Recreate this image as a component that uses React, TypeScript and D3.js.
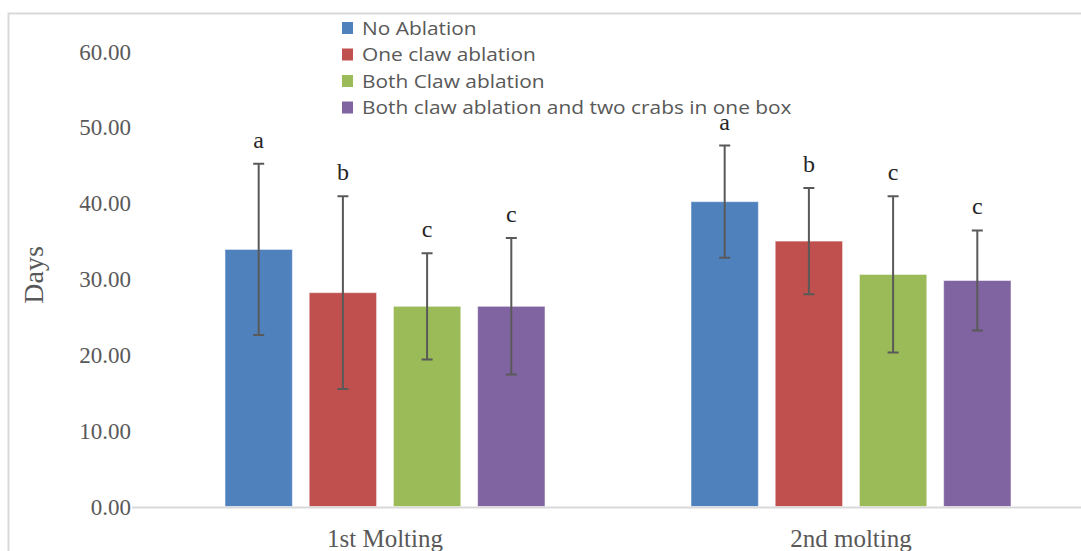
import { useEffect, useRef } from "react";
import * as d3 from "d3";

const categories = ["1st Molting", "2nd molting"];
const seriesNames = [
  "No Ablation",
  "One claw ablation",
  "Both Claw ablation",
  "Both claw ablation and two crabs in one box",
];
const colors = ["#4F81BD", "#C0504D", "#9BBB59", "#8064A2"];

// mean days per series, one value per category
const noAblation = [33.9, 40.2];
const oneClaw = [28.2, 35.0];
const bothClaw = [26.4, 30.6];
const bothClawTwoCrabs = [26.4, 29.8];

// standard deviations
const sdNoAblation = [11.3, 7.4];
const sdOneClaw = [12.7, 7.0];
const sdBothClaw = [7.0, 10.3];
const sdBothClawTwoCrabs = [9.0, 6.6];

// significance letters
const lettersNoAblation = ["a", "a"];
const lettersOneClaw = ["b", "b"];
const lettersBothClaw = ["c", "c"];
const lettersBothClawTwoCrabs = ["c", "c"];

const yTicks = [0, 10, 20, 30, 40, 50, 60];

const W = 1081,
  H = 551;

export default function App() {
  const ref = useRef<SVGSVGElement>(null);

  useEffect(() => {
    const svg = d3.select(ref.current);
    svg.selectAll("*").remove();

    const means = [noAblation, oneClaw, bothClaw, bothClawTwoCrabs];
    const sds = [sdNoAblation, sdOneClaw, sdBothClaw, sdBothClawTwoCrabs];
    const letters = [
      lettersNoAblation,
      lettersOneClaw,
      lettersBothClaw,
      lettersBothClawTwoCrabs,
    ];

    // chart frame (only top and left edges visible)
    svg
      .append("path")
      .attr("d", `M8.5,${H} L8.5,13.5 L${W},13.5`)
      .attr("fill", "none")
      .attr("stroke", "#d9d9d9")
      .attr("stroke-width", 2);

    const y = d3.scaleLinear().domain([0, 60]).range([506.5, 51.5]);
    const x0 = d3.scaleBand().domain(categories).range([152, 1084]);
    const x1 = d3
      .scaleBand()
      .domain(seriesNames)
      .range([0, 320])
      .paddingInner(0.2);
    const off = (x0.bandwidth() - 320) / 2;

    // y tick labels
    svg
      .append("g")
      .selectAll("text")
      .data(yTicks)
      .enter()
      .append("text")
      .attr("x", 131)
      .attr("y", (d) => y(d) + 8)
      .attr("text-anchor", "end")
      .attr("fill", "#595959")
      .style("font", "23px 'Liberation Serif', serif")
      .text((d) => d.toFixed(2));

    // y title
    svg
      .append("text")
      .attr("transform", `translate(43,275) rotate(-90)`)
      .attr("text-anchor", "middle")
      .attr("fill", "#595959")
      .style("font", "28px 'Liberation Serif', serif")
      .text("Days");

    // bars
    seriesNames.forEach((s, i) => {
      const g = svg.append("g");
      const rows = categories.map((c, j) => ({
        c,
        v: means[i][j],
        sd: sds[i][j],
        l: letters[i][j],
      }));
      const cx = (d) => x0(d.c)! + off + x1(s)! + x1.bandwidth() / 2;

      g.selectAll("rect")
        .data(rows)
        .enter()
        .append("rect")
        .attr("x", (d) => x0(d.c)! + off + x1(s)!)
        .attr("y", (d) => y(d.v))
        .attr("width", x1.bandwidth())
        .attr("height", (d) => y(0) - y(d.v))
        .attr("fill", colors[i])
        .attr("stroke", "rgba(255,255,255,0.5)")
        .attr("stroke-width", 1);

      // error bars
      g.selectAll("path.err")
        .data(rows)
        .enter()
        .append("path")
        .attr("class", "err")
        .attr("d", (d) => {
          const xc = cx(d);
          const t = y(d.v + d.sd),
            b = y(d.v - d.sd);
          return `M${xc - 5.5},${t} H${xc + 5.5} M${xc},${t} V${b} M${xc - 5.5},${b} H${xc + 5.5}`;
        })
        .attr("fill", "none")
        .attr("stroke", "#595959")
        .attr("stroke-width", 2);

      // letters
      g.selectAll("text")
        .data(rows)
        .enter()
        .append("text")
        .attr("x", cx)
        .attr("y", (d) => y(d.v + d.sd) - 16)
        .attr("text-anchor", "middle")
        .attr("fill", "#262626")
        .style("font", "24px 'Liberation Serif', serif")
        .text((d) => d.l);
    });

    // x axis line
    svg
      .append("line")
      .attr("x1", 132)
      .attr("x2", W)
      .attr("y1", y(0) + 1)
      .attr("y2", y(0) + 1)
      .attr("stroke", "#d9d9d9")
      .attr("stroke-width", 2);

    // category labels
    svg
      .append("g")
      .selectAll("text")
      .data(categories)
      .enter()
      .append("text")
      .attr("x", (d) => x0(d)! + x0.bandwidth() / 2)
      .attr("y", 547)
      .attr("text-anchor", "middle")
      .attr("fill", "#595959")
      .style("font", "25px 'Liberation Serif', serif")
      .text((d) => d);

    // legend (source font is wide, so stretch horizontally)
    const leg = svg
      .append("g")
      .selectAll("g")
      .data(seriesNames)
      .enter()
      .append("g")
      .attr("transform", (d, i) => `translate(342,${28 + i * 26.5})`);
    leg
      .append("rect")
      .attr("x", 0)
      .attr("y", -6)
      .attr("width", 11)
      .attr("height", 12)
      .attr("fill", (d, i) => colors[i]);
    leg
      .append("text")
      .attr("transform", "translate(20,6.5) scale(1.16,1)")
      .attr("fill", "#595959")
      .style("font", "18px 'Open Sans', sans-serif")
      .text((d) => d);
  }, []);

  return (
    <svg
      ref={ref}
      width={W}
      height={H}
      style={{ position: "absolute", left: 0, top: 0, background: "#fff" }}
    />
  );
}
